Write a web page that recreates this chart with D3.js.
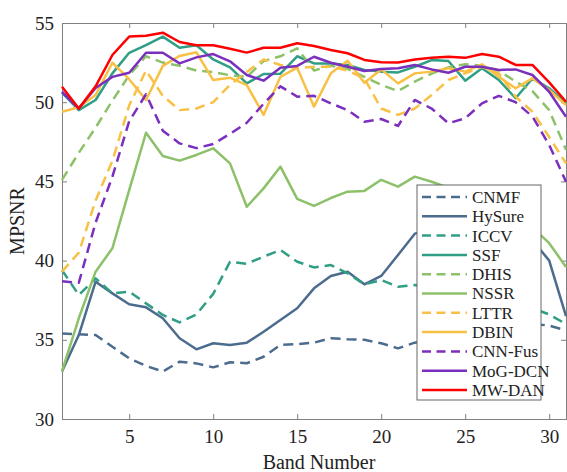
<!DOCTYPE html>
<html lang="en">
<head>
  <meta charset="UTF-8">
  <title>MPSNR per band</title>
  <script src="https://d3js.org/d3.v7.min.js"></script>
  <style>
    html, body { margin: 0; padding: 0; background: #fff; }
    svg { display: block; font-family: "Liberation Serif", "Times New Roman", serif; }
    .axis path, .axis line { stroke: #808080; }
    .axis text { font-size: 19px; fill: #222; font-family: "Liberation Serif", serif; }
    .axis-title { font-size: 20px; fill: #222; }
    .legend-text { font-size: 17px; fill: #222; }
  </style>
</head>
<body>
<svg width="567" height="472"></svg>
<script>
// band index on the x axis
const bands = [1,2,3,4,5,6,7,8,9,10,11,12,13,14,15,16,17,18,19,20,21,22,23,24,25,26,27,28,29,30,31];
const xTicks = [5, 10, 15, 20, 25, 30];
const yTicks = [30, 35, 40, 45, 50, 55];

// MPSNR values
const cnmf   = [35.4,35.35,35.3,34.56,33.83,33.35,33.0,33.62,33.51,33.26,33.58,33.52,33.93,34.67,34.73,34.82,35.1,35.03,35.0,34.78,34.46,34.82,35.0,35.2,35.4,35.6,35.8,36.0,36.0,35.9,35.6];
const hysure = [33.0,35.3,38.67,37.93,37.24,37.05,36.36,35.1,34.4,34.78,34.67,34.82,35.51,36.25,36.99,38.25,39.03,39.3,38.5,39.03,40.35,41.7,42.0,42.3,42.1,42.4,42.2,41.9,41.3,40.0,36.5];
const iccv   = [39.4,37.83,38.88,37.93,38.04,37.3,36.57,36.1,36.6,37.9,39.93,39.8,40.25,40.67,39.93,39.57,39.72,39.2,38.5,38.77,38.35,38.46,38.3,38.0,37.8,37.6,37.4,37.2,37.0,36.6,36.0];
const ssf    = [50.6,49.5,50.14,51.82,53.12,53.61,54.14,53.44,53.6,52.7,52.2,51.19,51.78,51.8,52.9,52.45,52.45,52.35,52.03,51.93,51.88,52.24,52.66,52.6,51.36,52.14,51.4,50.25,51.5,50.88,49.93];
const dhis   = [45.1,46.8,48.4,50.1,51.7,52.9,52.5,52.3,52.0,51.9,51.7,51.6,52.6,52.9,53.4,52.0,52.3,52.1,51.6,51.1,50.7,51.3,51.8,52.2,52.4,52.3,52.0,51.3,50.7,49.5,47.0];
const nssr   = [33.0,36.36,39.3,40.78,44.45,48.07,46.6,46.31,46.67,47.09,46.14,43.4,44.56,45.93,43.9,43.45,43.95,44.35,44.4,45.1,44.67,45.3,44.98,44.6,44.3,43.8,43.3,42.8,42.1,41.1,39.6];
const lttr   = [39.3,40.5,43.8,46.3,49.8,52.0,50.4,49.5,49.6,50.0,51.1,51.9,52.7,52.35,52.14,52.24,52.24,52.0,51.5,49.6,49.2,49.6,50.45,51.4,51.82,52.24,51.82,50.35,49.4,47.8,46.14];
const dbin   = [49.4,49.68,50.45,52.49,51.45,50.14,52.29,52.92,53.15,51.4,51.55,51.08,49.2,51.6,52.18,49.72,51.82,52.62,51.23,52.07,51.19,51.82,51.93,52.14,51.93,52.39,51.6,50.88,51.5,50.77,49.82];
const cnnfus = [38.7,38.6,42.4,45.3,48.8,50.5,48.2,47.4,47.1,47.36,48.0,48.7,49.9,51.0,50.35,50.4,49.93,49.5,48.77,48.94,48.5,50.14,49.6,48.67,48.98,49.93,50.4,50.0,49.1,47.3,44.98];
const mogdcn = [50.66,49.6,50.9,51.6,51.86,53.12,53.12,52.45,52.83,53.04,52.58,51.72,51.36,52.18,52.29,52.87,52.49,52.24,51.97,52.1,52.14,52.35,52.07,51.86,52.24,52.24,52.03,52.07,51.72,50.66,49.08];
const mwdan  = [50.98,49.6,51.0,52.98,54.14,54.2,54.39,53.8,53.6,53.6,53.37,53.13,53.44,53.44,53.72,53.55,53.3,53.09,52.67,52.52,52.5,52.7,52.8,52.87,52.8,53.04,52.87,52.35,52.35,51.25,50.03];

const series = [
  { name: "CNMF",    values: cnmf,   color: "#4c6c8e", dashed: true },
  { name: "HySure",  values: hysure, color: "#4c6c8e", dashed: false },
  { name: "ICCV",    values: iccv,   color: "#2f9e84", dashed: true },
  { name: "SSF",     values: ssf,    color: "#2f9e84", dashed: false },
  { name: "DHIS",    values: dhis,   color: "#8cc16a", dashed: true },
  { name: "NSSR",    values: nssr,   color: "#8cc16a", dashed: false },
  { name: "LTTR",    values: lttr,   color: "#f8c146", dashed: true },
  { name: "DBIN",    values: dbin,   color: "#f8c146", dashed: false },
  { name: "CNN-Fus", values: cnnfus, color: "#7b2fbd", dashed: true },
  { name: "MoG-DCN", values: mogdcn, color: "#7b2fbd", dashed: false },
  { name: "MW-DAN",  values: mwdan,  color: "#ff0000", dashed: false }
];

const svg = d3.select("svg");
const margin = {top: 23, right: 1, bottom: 53, left: 62};
const width = +svg.attr("width") - margin.left - margin.right;
const height = +svg.attr("height") - margin.top - margin.bottom;

const g = svg.append("g").attr("transform", `translate(${margin.left},${margin.top})`);

const x = d3.scaleLinear().domain([1, 31]).range([0, width]);
const y = d3.scaleLinear().domain([30, 55]).range([height, 0]);

// box with inward ticks on all four sides
g.append("g").attr("class", "axis")
  .attr("transform", `translate(0,${height})`)
  .call(d3.axisBottom(x).tickValues(xTicks).tickSize(-5).tickPadding(11));
g.append("g").attr("class", "axis")
  .call(d3.axisTop(x).tickValues(xTicks).tickSize(-5).tickFormat(""));
g.append("g").attr("class", "axis")
  .call(d3.axisLeft(y).tickValues(yTicks).tickSize(-5).tickPadding(8));
g.append("g").attr("class", "axis")
  .attr("transform", `translate(${width},0)`)
  .call(d3.axisRight(y).tickValues(yTicks).tickSize(-5).tickFormat(""));

const line = d3.line()
  .x((d, i) => x(bands[i]))
  .y(d => y(d));

g.selectAll(".series")
  .data(series)
  .enter()
  .append("path")
  .attr("class", "series")
  .attr("d", d => line(d.values))
  .attr("fill", "none")
  .attr("stroke", d => d.color)
  .attr("stroke-width", 2.5)
  .attr("stroke-linejoin", "round")
  .attr("stroke-dasharray", d => d.dashed ? "10,6" : null);

// axis titles
svg.append("text")
  .attr("class", "axis-title")
  .attr("x", margin.left + x(16.3))
  .attr("y", 469)
  .attr("text-anchor", "middle")
  .text("Band Number");
svg.append("text")
  .attr("class", "axis-title")
  .attr("transform", `translate(24,${margin.top + y(42.5)}) rotate(-90)`)
  .attr("text-anchor", "middle")
  .text("MPSNR");

// legend
const legend = svg.append("g").attr("transform", "translate(417,185)");
legend.append("rect")
  .attr("width", 124)
  .attr("height", 215)
  .attr("fill", "#fff")
  .attr("stroke", "#666")
  .attr("stroke-width", 1);

const rows = legend.selectAll(".row")
  .data(series)
  .enter()
  .append("g")
  .attr("class", "row")
  .attr("transform", (d, i) => `translate(0,${12 + i * 19.3})`);

rows.append("line")
  .attr("x1", 5).attr("x2", 50)
  .attr("stroke", d => d.color)
  .attr("stroke-width", 2.5)
  .attr("stroke-dasharray", d => d.dashed ? "9,5.5" : null);

rows.append("text")
  .attr("class", "legend-text")
  .attr("x", 55)
  .attr("dy", "0.35em")
  .text(d => d.name);
</script>
</body>
</html>
